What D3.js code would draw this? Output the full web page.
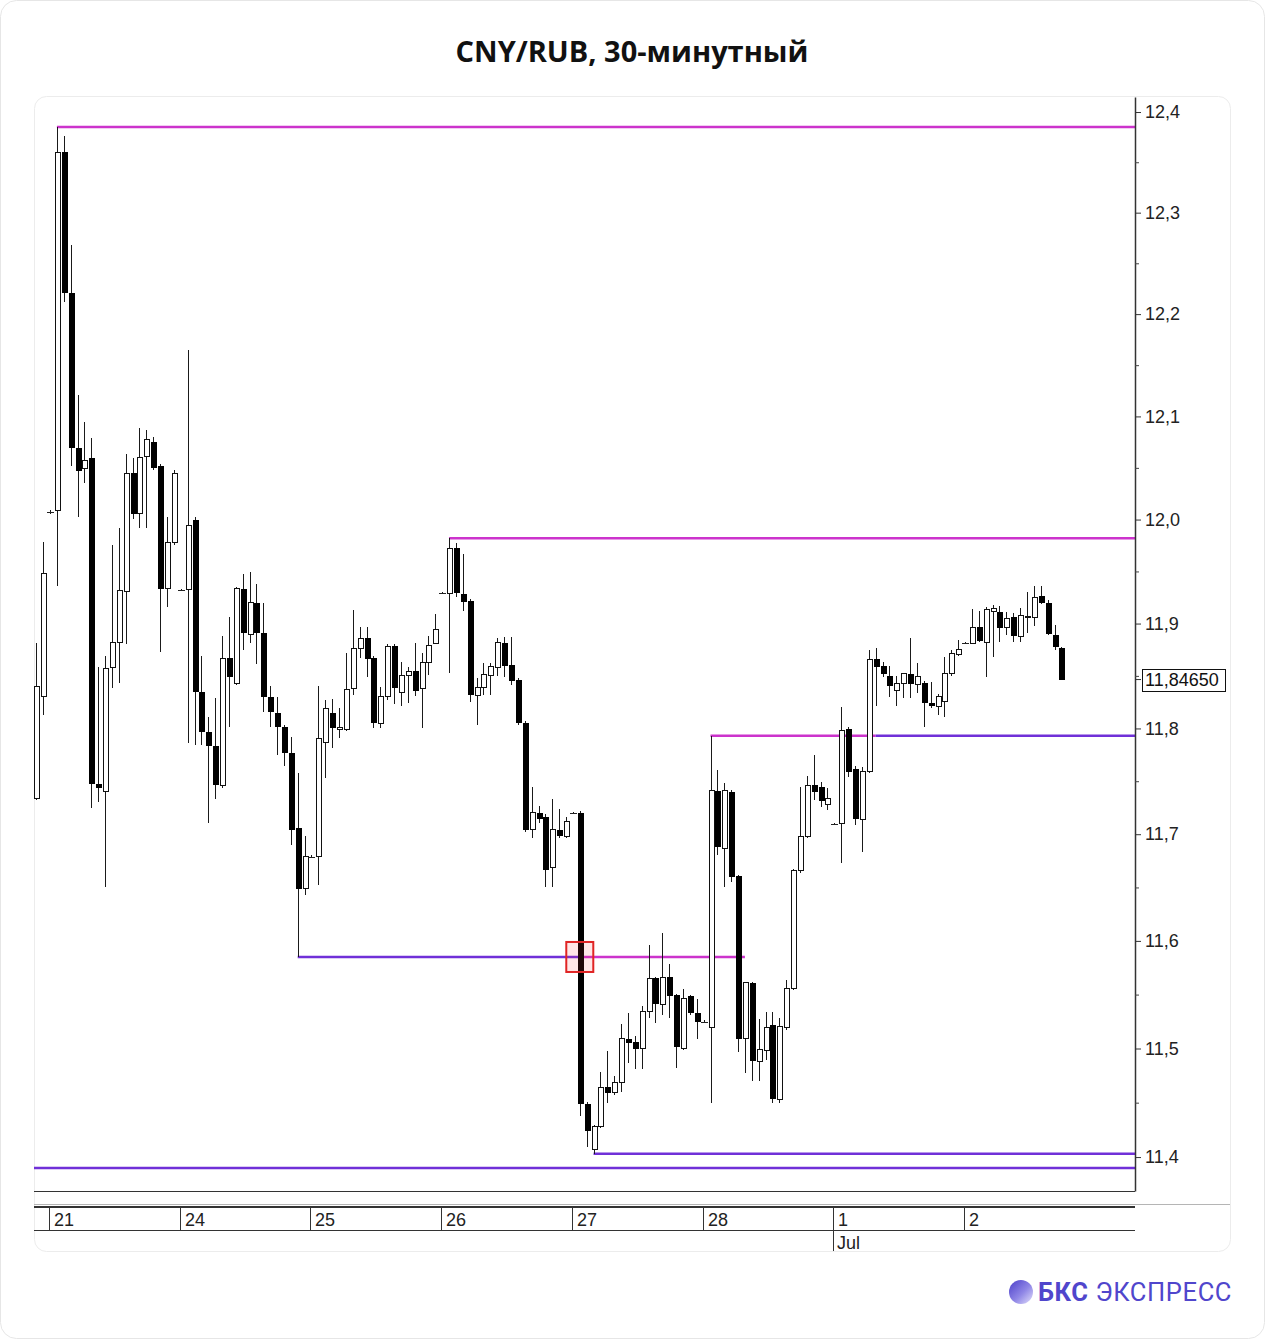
<!DOCTYPE html>
<html><head><meta charset="utf-8">
<script src="https://cdn.jsdelivr.net/npm/d3@7"></script>
<style>
html,body{margin:0;padding:0;background:#fff;}
svg{display:block;}
</style></head><body>
<svg id="chart" width="1265" height="1339"></svg>
<script>
// ---------------- DATA ----------------
const chartTitle = "CNY/RUB, 30-минутный";

const opens = [11.734,11.830,12.007,12.009,12.360,12.221,12.069,12.049,12.060,11.747,
11.740,11.858,11.882,11.931,12.045,12.006,12.061,12.075,12.052,11.934,
11.978,11.932,11.933,12.000,11.835,11.797,11.783,11.746,11.867,11.843,
11.933,11.890,11.920,11.891,11.830,11.815,11.801,11.777,11.706,11.649,
11.679,11.679,11.787,11.815,11.799,11.799,11.838,11.876,11.886,11.867,
11.805,11.830,11.879,11.834,11.850,11.855,11.838,11.863,11.881,11.929,
11.929,11.973,11.928,11.922,11.831,11.839,11.850,11.858,11.881,11.860,
11.846,11.805,11.704,11.720,11.716,11.669,11.704,11.698,11.720,11.720,
11.449,11.407,11.428,11.464,11.459,11.469,11.509,11.506,11.500,11.534,
11.565,11.541,11.566,11.550,11.500,11.549,11.533,11.525,11.519,11.741,
11.687,11.740,11.661,11.509,11.561,11.488,11.498,11.522,11.453,11.519,
11.556,11.666,11.698,11.746,11.745,11.728,11.710,11.710,11.799,11.762,
11.714,11.759,11.866,11.859,11.850,11.836,11.843,11.852,11.842,11.843,
11.824,11.821,11.826,11.852,11.870,11.881,11.881,11.897,11.882,11.912,
11.911,11.896,11.906,11.888,11.906,11.906,11.926,11.920,11.889,11.877];

const highs = [11.881,11.978,12.009,12.385,12.376,12.268,12.121,12.095,12.079,11.858,
11.869,11.975,11.992,12.063,12.060,12.089,12.087,12.080,12.054,12.002,
12.048,11.933,12.165,12.002,11.869,11.811,11.829,11.888,11.906,11.935,
11.948,11.949,11.938,11.920,11.840,11.830,11.803,11.792,11.758,11.698,
11.680,11.840,11.827,11.828,11.819,11.872,11.913,11.897,11.897,11.869,
11.839,11.880,11.880,11.863,11.858,11.881,11.872,11.888,11.909,11.930,
11.982,11.977,11.967,11.924,11.848,11.862,11.862,11.886,11.887,11.887,
11.848,11.807,11.745,11.727,11.719,11.733,11.724,11.716,11.721,11.722,
11.451,11.429,11.478,11.498,11.475,11.523,11.533,11.512,11.539,11.596,
11.566,11.607,11.578,11.551,11.555,11.550,11.546,11.526,11.793,11.761,
11.748,11.742,11.662,11.562,11.562,11.527,11.534,11.534,11.528,11.564,
11.667,11.745,11.755,11.775,11.749,11.744,11.711,11.820,11.801,11.764,
11.763,11.875,11.877,11.863,11.859,11.850,11.853,11.886,11.862,11.845,
11.844,11.833,11.868,11.875,11.884,11.882,11.914,11.912,11.916,11.918,
11.917,11.911,11.910,11.915,11.930,11.936,11.936,11.923,11.899,11.878];

const lows = [11.732,11.813,12.005,11.936,12.212,12.052,12.002,12.035,11.725,11.730,
11.650,11.838,11.843,11.880,12.001,11.992,11.992,12.048,11.873,11.916,
11.975,11.931,11.786,11.784,11.784,11.711,11.733,11.744,11.801,11.841,
11.875,11.881,11.861,11.816,11.801,11.775,11.764,11.690,11.585,11.643,
11.678,11.652,11.753,11.781,11.791,11.798,11.832,11.867,11.849,11.800,
11.800,11.827,11.823,11.821,11.824,11.831,11.800,11.851,11.880,11.928,
11.853,11.925,11.912,11.825,11.803,11.832,11.832,11.850,11.849,11.841,
11.803,11.702,11.696,11.711,11.650,11.650,11.696,11.696,11.719,11.438,
11.409,11.403,11.427,11.450,11.457,11.460,11.487,11.481,11.481,11.528,
11.524,11.531,11.528,11.482,11.499,11.531,11.509,11.524,11.450,11.680,
11.650,11.655,11.497,11.477,11.470,11.470,11.489,11.450,11.450,11.517,
11.554,11.664,11.696,11.732,11.726,11.723,11.709,11.673,11.754,11.709,
11.683,11.758,11.821,11.849,11.830,11.821,11.829,11.829,11.834,11.801,
11.819,11.813,11.811,11.850,11.869,11.880,11.880,11.882,11.849,11.868,
11.882,11.889,11.882,11.882,11.891,11.898,11.919,11.889,11.875,11.8465];

const closes = [11.840,11.948,12.007,12.360,12.221,12.069,12.047,12.057,11.747,11.744,
11.857,11.882,11.932,12.045,12.005,12.060,12.078,12.050,11.933,11.978,
12.045,11.932,11.994,11.835,11.797,11.783,11.746,11.867,11.849,11.934,
11.891,11.920,11.891,11.830,11.816,11.801,11.777,11.704,11.649,11.679,
11.679,11.790,11.819,11.800,11.801,11.837,11.876,11.886,11.866,11.805,
11.830,11.878,11.838,11.850,11.854,11.836,11.863,11.879,11.894,11.929,
11.972,11.929,11.921,11.832,11.839,11.851,11.859,11.882,11.859,11.845,
11.805,11.704,11.720,11.714,11.666,11.704,11.698,11.712,11.720,11.449,
11.424,11.428,11.464,11.459,11.469,11.509,11.505,11.500,11.534,11.565,
11.541,11.566,11.549,11.501,11.546,11.533,11.525,11.525,11.741,11.688,
11.741,11.660,11.509,11.561,11.488,11.499,11.519,11.453,11.520,11.556,
11.666,11.698,11.746,11.740,11.731,11.734,11.710,11.798,11.759,11.714,
11.759,11.866,11.858,11.852,11.840,11.843,11.852,11.842,11.849,11.824,
11.821,11.830,11.852,11.871,11.875,11.881,11.896,11.883,11.913,11.914,
11.896,11.905,11.888,11.908,11.907,11.925,11.920,11.890,11.878,11.8465];

const dayLabels = ["21","24","25","26","27","28","1","2"];
const dayStartIndex = [2,21,40,59,78,97,116,135];
const monthLabels = ["Jul"];
const monthStartIndex = [116];

const yTickValues = [11.4,11.5,11.6,11.7,11.8,11.9,12.0,12.1,12.2,12.3,12.4];
const yMinorTickValues = [11.45,11.55,11.65,11.75,11.85,11.95,12.05,12.15,12.25,12.35];
const lastPrice = 11.8465;
const lastPriceLabel = "11,84650";

// support / resistance level segments (value, start bar, end bar; null = chart edge)
const levelValue = [12.385, 11.982, 11.793, 11.793, 11.585, 11.585, 11.403, 11.390];
const levelFrom  = [3, 60, 98, 122, 38, 79, 81, null];
const levelTo    = [null, null, 122, null, 79, 103, null, null];
const levelKind  = ["m","m","m","p","p","m","p","p"];

const markerIndex = 79;
const markerValue = 11.585;

// ---------------- LAYOUT ----------------
const W = 1265, H = 1339;
const plotL = 34, plotR = 1135, plotT = 97, plotB = 1191;
const MAGENTA = "#cc33cc", PURPLE = "#7030d8";
const axisFont = "'Liberation Sans', Arial, sans-serif";

const svg = d3.select("#chart");

// outer frame & card
svg.append("rect").attr("x",0.5).attr("y",0.5).attr("width",W-1).attr("height",H-1)
  .attr("rx",16).attr("fill","#fff").attr("stroke","#e6e6e6");
svg.append("rect").attr("x",34.5).attr("y",96.5).attr("width",1196).attr("height",1155)
  .attr("rx",12).attr("fill","#fff").attr("stroke","#ececec");

// title
svg.append("text").attr("x",632).attr("y",62).attr("text-anchor","middle")
  .attr("font-family","'Open Sans', 'Noto Sans', sans-serif").attr("font-weight",700)
  .attr("font-size",29).attr("fill","#111").text(chartTitle);

const n = opens.length;
const x = d3.scaleLinear().domain([-0.33, 159.7]).range([plotL, plotR]);
const y = d3.scaleLog().domain([11.3689, 12.415]).range([plotB, plotT]);

svg.append("defs").append("clipPath").attr("id","plotClip")
  .append("rect").attr("x",plotL).attr("y",plotT).attr("width",plotR-plotL).attr("height",plotB-plotT);

const plot = svg.append("g").attr("clip-path","url(#plotClip)");

// level lines
const levels = levelValue.map((v,k)=>({v, from:levelFrom[k], to:levelTo[k], kind:levelKind[k]}));
plot.append("g").selectAll("line").data(levels).join("line")
  .attr("x1", d => d.from === null ? plotL : x(d.from))
  .attr("x2", d => d.to === null ? plotR : x(d.to))
  .attr("y1", d => y(d.v)).attr("y2", d => y(d.v))
  .attr("stroke", d => d.kind === "m" ? MAGENTA : PURPLE)
  .attr("stroke-width", 2.4);

// candles
const bars = d3.range(n).map(i => ({i, o:opens[i], h:highs[i], l:lows[i], c:closes[i]}));
const cg = plot.append("g").attr("shape-rendering","crispEdges");
const cx = d => Math.round(x(d.i));
cg.selectAll("line.wick").data(bars).join("line").attr("class","wick")
  .attr("x1", d => cx(d)+0.5).attr("x2", d => cx(d)+0.5)
  .attr("y1", d => y(d.h)).attr("y2", d => y(d.l))
  .attr("stroke","#1a1a1a").attr("stroke-width",1);

// down bars (filled)
cg.selectAll("rect.down").data(bars.filter(d => d.c < d.o)).join("rect").attr("class","down")
  .attr("x", d => cx(d)-2).attr("width",6)
  .attr("y", d => y(d.o)).attr("height", d => Math.max(1, y(d.c)-y(d.o)))
  .attr("fill","#000");
// up bars (hollow)
cg.selectAll("rect.up").data(bars.filter(d => d.c > d.o)).join("rect").attr("class","up")
  .attr("x", d => cx(d)-1.5).attr("width",5)
  .attr("y", d => y(d.c)).attr("height", d => Math.max(1, y(d.o)-y(d.c)))
  .attr("fill","#fff").attr("stroke","#111").attr("stroke-width",1);
// flat bars (dash)
cg.selectAll("line.flat").data(bars.filter(d => d.c === d.o)).join("line").attr("class","flat")
  .attr("x1", d => cx(d)-3).attr("x2", d => cx(d)+4)
  .attr("y1", d => Math.round(y(d.o))+0.5).attr("y2", d => Math.round(y(d.o))+0.5)
  .attr("stroke","#222").attr("stroke-width",1);

// marker square
plot.append("rect")
  .attr("x", x(markerIndex)-13.5).attr("y", y(markerValue)-15)
  .attr("width",27).attr("height",30)
  .attr("fill","rgba(255,60,60,0.12)").attr("stroke","#e02424").attr("stroke-width",2);

// right axis
const fmt = d => d3.format(".1f")(d).replace(".", ",");
const yAxis = d3.axisRight(y).tickValues(yTickValues).tickFormat(fmt).tickSize(6).tickSizeOuter(0).tickPadding(4);
const ga = svg.append("g").attr("transform",`translate(${plotR},0)`).call(yAxis);
ga.select(".domain").attr("stroke","#333").attr("stroke-width",1.5);
ga.selectAll(".tick line").attr("stroke","#333");
ga.selectAll(".tick text").attr("font-family",axisFont).attr("font-size",18).attr("fill","#222");
const yMinor = d3.axisRight(y).tickValues(yMinorTickValues).tickFormat("").tickSize(4).tickSizeOuter(0);
const gm = svg.append("g").attr("transform",`translate(${plotR},0)`).call(yMinor);
gm.select(".domain").remove();
gm.selectAll(".tick line").attr("stroke","#444");

// last price tag
const yl = y(lastPrice);
svg.append("line").attr("x1",plotR).attr("x2",plotR+6).attr("y1",yl).attr("y2",yl).attr("stroke","#333");
svg.append("rect").attr("x",1142.5).attr("y",Math.round(yl)-10.5).attr("width",83).attr("height",22)
  .attr("fill","#fff").attr("stroke","#111").attr("stroke-width",1);
svg.append("text").attr("x",1145).attr("y",yl+6.5).attr("font-family",axisFont)
  .attr("font-size",18).attr("fill","#111").text(lastPriceLabel);

// bottom frame line of plot
svg.append("line").attr("x1",plotL).attr("x2",plotR).attr("y1",plotB+0.5).attr("y2",plotB+0.5)
  .attr("stroke","#333").attr("stroke-width",1.2);

// date band
const band = svg.append("g").attr("shape-rendering","crispEdges");
band.append("line").attr("x1",plotL).attr("x2",1230).attr("y1",1204.5).attr("y2",1204.5).attr("stroke","#b5b5b5");
band.append("line").attr("x1",plotL).attr("x2",plotR).attr("y1",1207).attr("y2",1207).attr("stroke","#333").attr("stroke-width",1.5);
band.append("line").attr("x1",plotL).attr("x2",plotR).attr("y1",1230.5).attr("y2",1230.5).attr("stroke","#333").attr("stroke-width",1.5);
const days = dayLabels.map((t,k)=>({t, i:dayStartIndex[k]}));
band.selectAll("line.sep").data(days).join("line").attr("class","sep")
  .attr("x1", d => Math.round(x(d.i))-0.5).attr("x2", d => Math.round(x(d.i))-0.5)
  .attr("y1",1207).attr("y2",1230).attr("stroke","#333").attr("stroke-width",1.2);
svg.selectAll("text.day").data(days).join("text").attr("class","day")
  .attr("x", d => Math.round(x(d.i))+4).attr("y",1226)
  .attr("font-family",axisFont).attr("font-size",18).attr("fill","#222").text(d => d.t);
const months = monthLabels.map((t,k)=>({t, i:monthStartIndex[k]}));
band.selectAll("line.msep").data(months).join("line").attr("class","msep")
  .attr("x1", d => Math.round(x(d.i))-0.5).attr("x2", d => Math.round(x(d.i))-0.5)
  .attr("y1",1230).attr("y2",1251).attr("stroke","#333").attr("stroke-width",1.2);
svg.selectAll("text.month").data(months).join("text").attr("class","month")
  .attr("x", d => Math.round(x(d.i))+3).attr("y",1249)
  .attr("font-family",axisFont).attr("font-size",18).attr("fill","#222").text(d => d.t);

// logo
const defs = svg.select("defs");
const lg = defs.append("linearGradient").attr("id","logoGrad").attr("x1","0").attr("y1","0").attr("x2","1").attr("y2","1");
lg.append("stop").attr("offset","0%").attr("stop-color","#4c3fc9");
lg.append("stop").attr("offset","55%").attr("stop-color","#8f86e6");
lg.append("stop").attr("offset","100%").attr("stop-color","#e4e1fb");
svg.append("circle").attr("cx",1021).attr("cy",1292).attr("r",12).attr("fill","url(#logoGrad)");
const logo = svg.append("text").attr("x",1038).attr("y",1301)
  .attr("font-family","Roboto, 'Noto Sans', sans-serif").attr("font-size",25.5)
  .attr("letter-spacing",0.6).attr("fill","#5046cc");
logo.append("tspan").attr("font-weight",700).text("БКС");
logo.append("tspan").attr("font-weight",400).text(" ЭКСПРЕСС");
</script>
</body></html>
